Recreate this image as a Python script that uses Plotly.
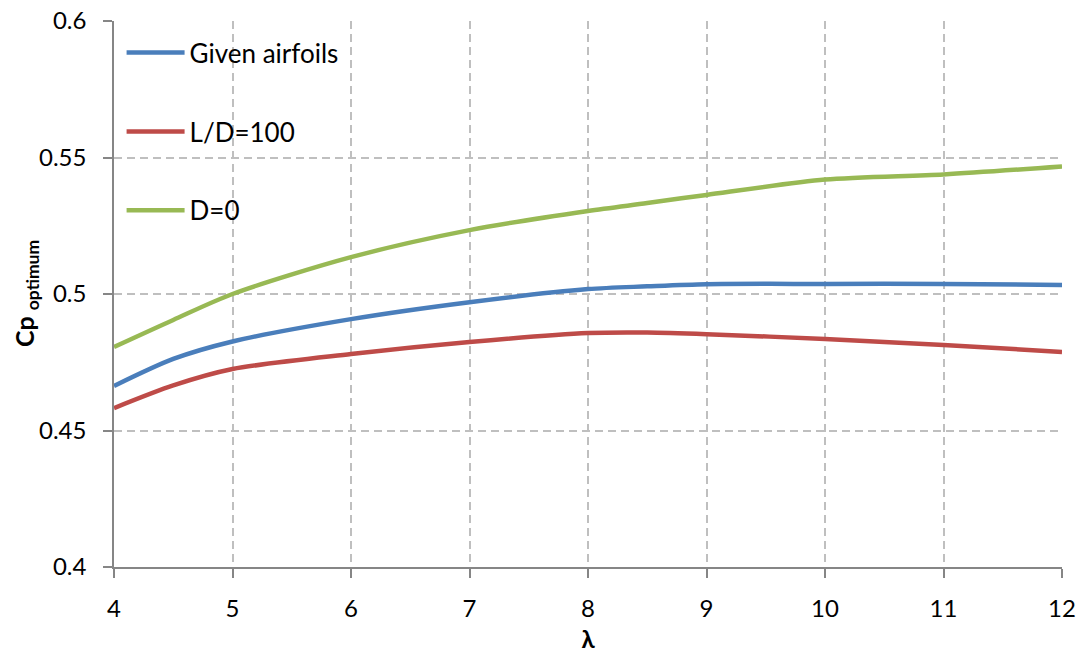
import plotly.graph_objects as go

lam = [4, 4.5, 5, 6, 7, 8, 8.5, 9, 10, 11, 12]
cp_given = [0.4663, 0.4762, 0.4826, 0.4908, 0.4970, 0.5018, 0.5028, 0.5036, 0.5037, 0.5037, 0.5033]
cp_ld100 = [0.4582, 0.4665, 0.4725, 0.4780, 0.4824, 0.4857, 0.4859, 0.4853, 0.4835, 0.4813, 0.4788]
cp_d0 = [0.4806, 0.4905, 0.5000, 0.5135, 0.5234, 0.5304, 0.5333, 0.5363, 0.5419, 0.5438, 0.5467]

names = ["Given airfoils", "L/D=100", "D=0"]
colors = ["#4a7ebb", "#be4b48", "#98b954"]
series = [cp_given, cp_ld100, cp_d0]

font_family = "Lato, 'Open Sans', sans-serif"

fig = go.Figure()
for i, (n, c, s) in enumerate(zip(names, colors, series)):
    fig.add_trace(go.Scatter(
        x=lam, y=s, name=n, mode="lines",
        line=dict(color=c, width=4.5, shape="spline", smoothing=0.8),
        legendgroup=str(i),
    ))

axis_common = dict(
    showline=True, linecolor="#868686", linewidth=1.5,
    ticks="outside", ticklen=9, tickcolor="#868686", tickwidth=1.5,
    showgrid=True, gridcolor="#bfbfbf", griddash="8px,5px", gridwidth=1.5,
    zeroline=False, automargin=False,
    tickfont=dict(family=font_family, size=24, color="#000"),
)

fig.update_layout(
    width=1080, height=653,
    margin=dict(l=114, r=18, t=21, b=86),
    plot_bgcolor="white", paper_bgcolor="white",
    xaxis=dict(range=[4, 12], dtick=1, ticklabelstandoff=10, **axis_common,
               title=dict(text="<b>λ</b>", font=dict(family=font_family, size=24, color="#000"), standoff=12)),
    yaxis=dict(range=[0.4, 0.6], dtick=0.05, ticklabelstandoff=12, **axis_common),
    legend=dict(x=0.008, y=0.985, xanchor="left", yanchor="top",
                bgcolor="rgba(0,0,0,0)", font=dict(family=font_family, size=26, color="#000"),
                tracegroupgap=42, itemwidth=58),
    showlegend=True,
)

fig.add_annotation(
    text="<b>Cp <sub>optimum</sub></b>", xref="paper", yref="paper",
    x=0, y=0.5, xanchor="center", yanchor="middle", xshift=-88,
    textangle=-90, showarrow=False,
    font=dict(family=font_family, size=25, color="#000"),
)

fig.write_html("out.html")
